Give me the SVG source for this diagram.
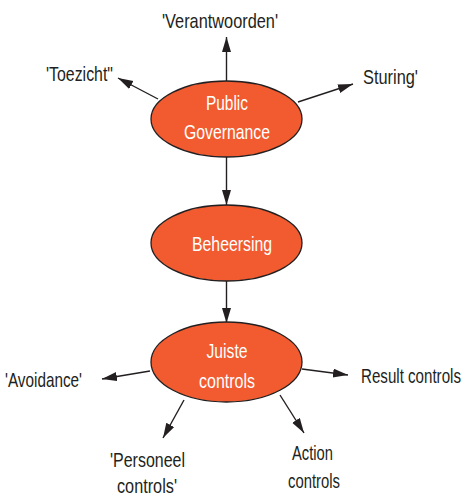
<svg xmlns="http://www.w3.org/2000/svg" width="469" height="496" viewBox="0 0 469 496">
<style>
.node{fill:#F15B2F;stroke:#231F20;stroke-width:1.3}
.t{font-family:"Liberation Sans Narrow","Liberation Sans",Arial,sans-serif;font-size:21px;fill:#231F20;text-anchor:middle}
.w{fill:#FFFFFF}
.c{stroke:#231F20;stroke-width:1.4;fill:none;marker-end:url(#ah)}
</style>
<defs>
<marker id="ah" markerUnits="userSpaceOnUse" markerWidth="16" markerHeight="10" refX="15" refY="4.5" orient="auto">
<path d="M0,0 L15,4.5 L0,9 z" fill="#231F20"/>
</marker>
</defs>
<rect width="469" height="496" fill="#FFFFFF"/>
<g id="connectors">
<line class="c" x1="226.5" y1="81" x2="226.5" y2="37"/>
<line class="c" x1="158" y1="99" x2="118" y2="78"/>
<line class="c" x1="298" y1="102" x2="353" y2="84"/>
<line class="c" x1="226.5" y1="157" x2="226.5" y2="205"/>
<line class="c" x1="226.5" y1="281" x2="226.5" y2="323"/>
<line class="c" x1="150" y1="371" x2="102" y2="379"/>
<line class="c" x1="302" y1="369" x2="348" y2="375"/>
<line class="c" x1="184" y1="400" x2="163" y2="438"/>
<line class="c" x1="280" y1="395" x2="304" y2="433"/>
</g>
<g id="public-governance">
<ellipse class="node" cx="226.5" cy="119" rx="75.5" ry="38"/>
<text class="t w" x="227" y="110" textLength="42" lengthAdjust="spacingAndGlyphs">Public</text>
<text class="t w" x="227" y="139" textLength="86" lengthAdjust="spacingAndGlyphs">Governance</text>
</g>
<g id="beheersing">
<ellipse class="node" cx="226.5" cy="243" rx="75.5" ry="38"/>
<text class="t w" x="232" y="251" textLength="80" lengthAdjust="spacingAndGlyphs">Beheersing</text>
</g>
<g id="juiste-controls">
<ellipse class="node" cx="226.5" cy="362" rx="75.5" ry="40"/>
<text class="t w" x="227" y="358" textLength="41" lengthAdjust="spacingAndGlyphs">Juiste</text>
<text class="t w" x="227" y="388" textLength="56" lengthAdjust="spacingAndGlyphs">controls</text>
</g>
<g id="verantwoorden">
<text class="t" x="220" y="28" textLength="116" lengthAdjust="spacingAndGlyphs">'Verantwoorden'</text>
</g>
<g id="toezicht">
<text class="t" x="79.5" y="81" textLength="67" lengthAdjust="spacingAndGlyphs">'Toezicht"</text>
</g>
<g id="sturing">
<text class="t" x="390.5" y="84" textLength="55" lengthAdjust="spacingAndGlyphs">Sturing'</text>
</g>
<g id="avoidance">
<text class="t" x="43.5" y="387" textLength="77" lengthAdjust="spacingAndGlyphs">'Avoidance'</text>
</g>
<g id="result-controls">
<text class="t" transform="translate(411,383) scale(0.72,1)" x="0" y="0">Result controls</text>
</g>
<g id="personeel-controls">
<text class="t" x="147.5" y="467" textLength="75" lengthAdjust="spacingAndGlyphs">'Personeel</text>
<text class="t" x="147" y="493" textLength="60" lengthAdjust="spacingAndGlyphs">controls'</text>
</g>
<g id="action-controls">
<text class="t" x="312.5" y="460" textLength="41" lengthAdjust="spacingAndGlyphs">Action</text>
<text class="t" x="314" y="488" textLength="52" lengthAdjust="spacingAndGlyphs">controls</text>
</g>
</svg>
